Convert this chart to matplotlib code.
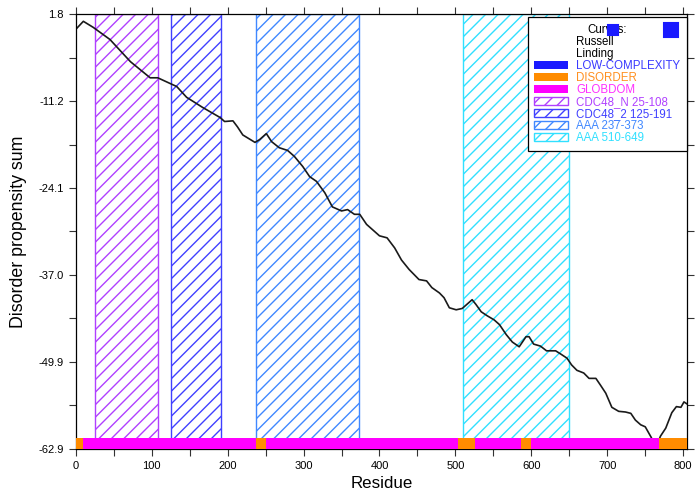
import matplotlib.pyplot as plt
from matplotlib.patches import Patch, Rectangle
import numpy

plt.rcParams['font.family'] = ['Liberation Sans', 'DejaVu Sans']

# rendered at 150 dpi; every size below is given as it would be at 100 dpi and scaled by S
DPI = 150
S = 100.0 / DPI
HATCH = '////'
plt.rcParams['hatch.linewidth'] = 1.0 * S

# disorder propensity sum along the sequence
residue = [0, 10, 23, 45, 72, 98, 108, 133, 146, 167, 190, 196, 207, 213, 220,
           236, 242, 251, 258, 268, 279, 288, 299, 308, 317, 328, 338, 350, 358,
           367, 374, 383, 391, 400, 410, 420, 429, 439, 452, 462, 469, 479, 485,
           492, 501, 509, 518, 522, 527, 534, 542, 551, 558, 567, 575, 584, 593,
           597, 603, 612, 620, 632, 639, 647, 653, 660, 669, 676, 685, 691, 698,
           706, 715, 724, 731, 737, 744, 750, 754, 758, 764, 770, 777, 785, 791,
           797, 801, 805]
propensity = [-0.5, 0.7, -0.2, -2.0, -5.3, -7.7, -7.7, -9.0, -10.6, -12.1, -13.6,
              -14.2, -14.1, -15.0, -16.2, -17.3, -16.9, -16.0, -17.2, -18.1, -18.5,
              -19.4, -20.9, -22.4, -23.1, -24.8, -26.9, -27.5, -27.3, -28.0, -28.0,
              -29.5, -30.3, -31.2, -31.5, -33.0, -34.8, -36.2, -37.7, -37.9, -38.9,
              -39.7, -40.4, -41.9, -42.2, -42.0, -41.1, -40.7, -41.4, -42.5, -43.1,
              -43.7, -44.4, -45.9, -47.0, -47.7, -46.2, -46.2, -47.3, -47.6, -48.3,
              -48.3, -48.8, -49.4, -50.4, -51.2, -51.6, -52.4, -52.4, -53.4, -54.6,
              -56.7, -57.3, -57.4, -57.6, -58.6, -59.3, -59.6, -60.4, -61.2, -62.8,
              -61.0, -59.8, -57.5, -56.6, -56.7, -55.9, -56.2]

# domain annotations (hatched)
domain_names = ["CDC48_N 25-108", "CDC48_2 125-191", "AAA 237-373", "AAA 510-649"]
domain_start = [25, 125, 237, 510]
domain_end = [108, 191, 373, 649]
domain_colors = ["#b040ff", "#4040ff", "#4088ff", "#30e0ff"]

# bottom bar segments
bar_start = [0, 9, 238, 251, 504, 526, 586, 599, 768]
bar_end = [9, 238, 251, 504, 526, 586, 599, 768, 805]
bar_kind = ["DISORDER", "GLOBDOM", "DISORDER", "GLOBDOM", "DISORDER",
            "GLOBDOM", "DISORDER", "GLOBDOM", "DISORDER"]
kind_colors = {"LOW-COMPLEXITY": "#1a1aff", "DISORDER": "#ff8c00", "GLOBDOM": "#ff00ff"}
kind_text_colors = {"LOW-COMPLEXITY": "#3a3aff", "DISORDER": "#ff9020", "GLOBDOM": "#ff30ff"}

y_ticks = [1.8, -11.2, -24.1, -37.0, -49.9, -62.9]
y_labels = ["1.8", "-11.2", "-24.1", "-37.0", "-49.9", "-62.9"]
x_ticks = [0, 100, 200, 300, 400, 500, 600, 700, 800]


def main():
    fig = plt.figure(figsize=(695.0 / DPI, 497.0 / DPI), dpi=DPI)
    ax = fig.add_axes([0.109, 0.0966, 0.8795, 0.8754])
    ax.set_xlim(0, 805)
    ax.set_ylim(-62.9, 1.8)

    for start, end, color in zip(domain_start, domain_end, domain_colors):
        ax.add_patch(Rectangle((start, -62.9), end - start, 64.7, fill=False,
                               edgecolor=color, hatch=HATCH, linewidth=1.0 * S, zorder=1))

    ax.plot(residue, propensity, color="#1a1a1a", linewidth=1.2 * S, zorder=2)

    for start, end, kind in zip(bar_start, bar_end, bar_kind):
        ax.add_patch(Rectangle((start, -62.9), end - start, 1.7, facecolor=kind_colors[kind],
                               edgecolor='none', zorder=3, clip_on=False))

    ax.set_xticks(x_ticks)
    ax.set_xticks(numpy.arange(50, 805, 100), minor=True)
    ax.set_yticks(y_ticks)
    ax.set_yticklabels(y_labels)
    minor_y = [(y_ticks[i] + y_ticks[i + 1]) / 2 for i in range(len(y_ticks) - 1)]
    ax.set_yticks(minor_y, minor=True)
    ax.tick_params(which='both', direction='out', top=True, right=True, labelsize=8 * S,
                   width=0.8 * S, color="#333333", pad=3.5 * S)
    ax.tick_params(which='major', length=5 * S)
    ax.tick_params(which='minor', length=5 * S)
    for spine in ax.spines.values():
        spine.set_linewidth(0.9 * S)

    ax.set_xlabel("Residue", fontsize=12.2 * S, labelpad=4 * S)
    ax.set_ylabel("Disorder propensity sum", fontsize=12.8 * S, labelpad=8 * S)

    handles = [Patch(visible=False), Patch(visible=False)]
    labels = ["Russell", "Linding"]
    text_colors = ["black", "black"]
    for kind in ["LOW-COMPLEXITY", "DISORDER", "GLOBDOM"]:
        handles.append(Patch(facecolor=kind_colors[kind], edgecolor='none'))
        labels.append(kind)
        text_colors.append(kind_text_colors[kind])
    for name, color in zip(domain_names, domain_colors):
        handles.append(Patch(fill=False, edgecolor=color, hatch=HATCH, linewidth=1.0 * S))
        labels.append(name)
        text_colors.append(color)

    leg = ax.legend(handles, labels, title="Curves:", loc='upper right',
                    bbox_to_anchor=(1.0, 0.993), borderaxespad=0, fontsize=8.3 * S,
                    title_fontsize=8.3 * S, labelcolor=text_colors, fancybox=False,
                    edgecolor="black", framealpha=1, labelspacing=0.0,
                    handlelength=2.9, handleheight=0.75, handletextpad=0.7,
                    borderpad=0.6)
    leg.get_frame().set_linewidth(0.9 * S)
    leg.set_zorder(5)

    # the two small blue boxes next to the legend title
    ax.plot([0.879], [0.962], marker='s', markersize=7.5 * S, color="#1a1aff",
            transform=ax.transAxes, clip_on=False, zorder=6, linestyle='none')
    ax.plot([0.974], [0.962], marker='s', markersize=10 * S, color="#1a1aff",
            transform=ax.transAxes, clip_on=False, zorder=6, linestyle='none')

    fig.savefig("out.png", dpi=DPI)


if __name__ == '__main__':
    main()
